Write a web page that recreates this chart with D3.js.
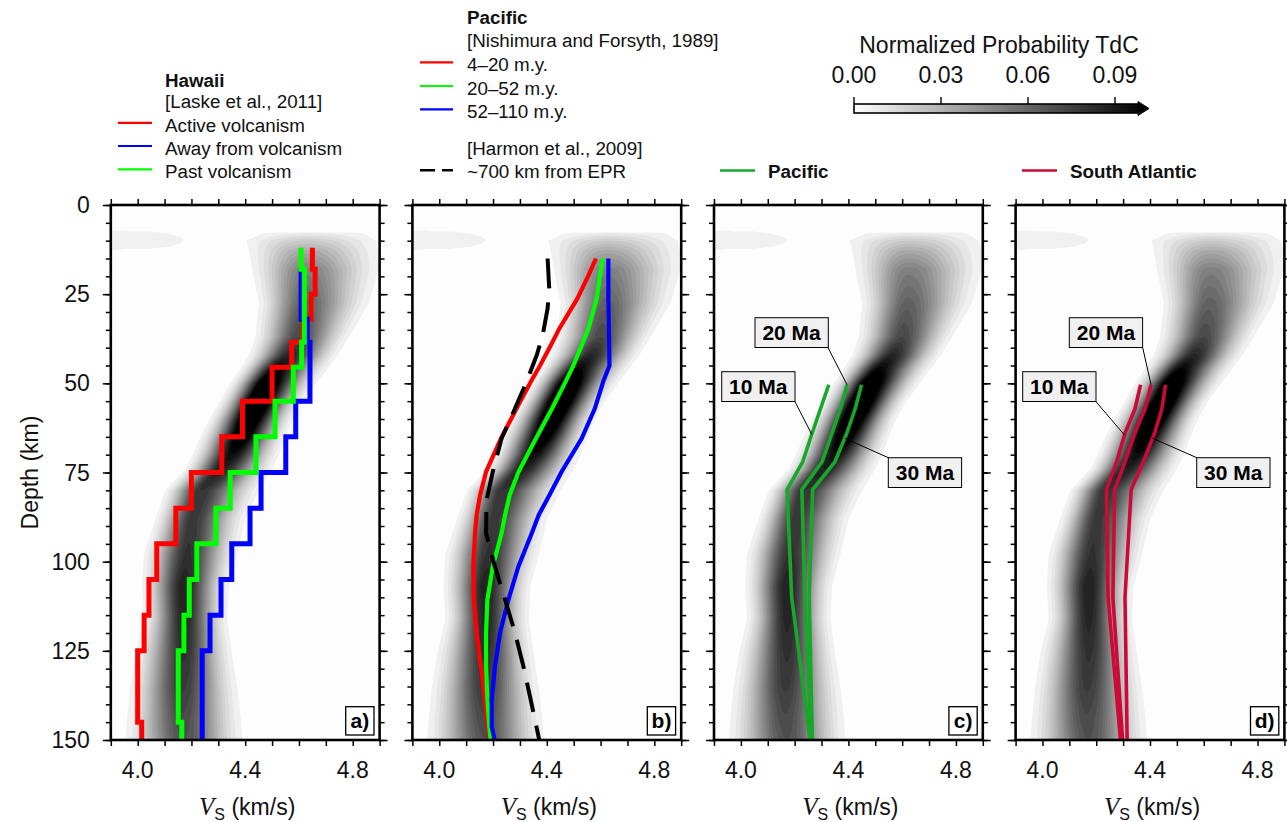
<!DOCTYPE html>
<html>
<head>
<meta charset="utf-8">
<script src="https://cdn.jsdelivr.net/npm/d3@7"></script>
<style>
  body { margin: 0; background: #ffffff; }
  svg { display: block; font-family: "Liberation Sans", Arial, Helvetica, sans-serif; }
</style>
</head>
<body>
<svg id="chart" width="1287" height="822"></svg>
<script>
// ---------------- Data ----------------

// Axis ticks
const vsTicks = [3.9, 4.0, 4.1, 4.2, 4.3, 4.4, 4.5, 4.6, 4.7, 4.8, 4.9];
const vsLabels = [4.0, 4.4, 4.8];
const depthMinorTicks = d3.range(0, 151, 5);
const depthLabels = [0, 25, 50, 75, 100, 125, 150];
const probTicks = [0.00, 0.03, 0.06, 0.09];

// Probability density ridge (TdC): per depth, modal Vs, peak normalized
// probability and the half-widths (left/right of mode) of the outermost contour
const densDepth = [7.1, 8, 10, 13, 18, 27.5, 37, 42, 46, 50, 55.5, 60, 65, 70, 74, 80, 88, 98, 107, 116, 126, 135, 144, 150];
const densMode  = [4.64, 4.64, 4.63, 4.625, 4.624, 4.62, 4.60, 4.565, 4.515, 4.48, 4.444, 4.415, 4.385, 4.35, 4.31, 4.235, 4.203, 4.184, 4.172, 4.172, 4.172, 4.166, 4.166, 4.172];
const densPeak  = [0.0, 0.010, 0.022, 0.036, 0.052, 0.064, 0.074, 0.087, 0.100, 0.118, 0.125, 0.120, 0.110, 0.097, 0.090, 0.082, 0.080, 0.083, 0.090, 0.088, 0.083, 0.079, 0.073, 0.070];
const densLeft  = [0.07, 0.175, 0.225, 0.21, 0.198, 0.169, 0.162, 0.15, 0.134, 0.135, 0.142, 0.148, 0.151, 0.145, 0.132, 0.131, 0.137, 0.161, 0.156, 0.149, 0.18, 0.193, 0.205, 0.217];
const densRight = [0.09, 0.20, 0.256, 0.27, 0.273, 0.24, 0.186, 0.18, 0.19, 0.185, 0.168, 0.163, 0.165, 0.175, 0.19, 0.216, 0.198, 0.186, 0.167, 0.161, 0.179, 0.204, 0.217, 0.217];

// Faint shallow low-velocity streak at the top left of the density field
const streakDepth = [7.1, 7.4, 8.0, 9.0, 9.8, 10.8, 11.8, 12.3, 12.6];
const streakReach = [3.9, 4.06, 4.13, 4.175, 4.19, 4.175, 4.13, 4.06, 3.9];
const streakLevel = 0.0072;

// a) Hawaii, Laske et al. (2011): layered profiles
const hawaiiLayerTop  = [12, 18, 25, 32, 38.5, 45.5, 55, 65, 75, 85, 95, 105, 115, 125, 145];
const hawaiiLayerBase = [18, 25, 32, 38.5, 45.5, 55, 65, 75, 85, 95, 105, 115, 125, 145, 150];
const hawaiiActive = [4.65, 4.66, 4.645, 4.615, 4.573, 4.50, 4.39, 4.313, 4.20, 4.142, 4.071, 4.042, 4.024, 4.00, 4.015];
const hawaiiAway   = [null, 4.608, 4.608, 4.631, 4.641, 4.641, 4.588, 4.551, 4.459, 4.418, 4.35, 4.31, 4.269, 4.24, 4.24];
const hawaiiPast   = [4.608, 4.62, 4.62, 4.62, 4.61, 4.579, 4.511, 4.44, 4.344, 4.291, 4.22, 4.192, 4.172, 4.151, 4.164];

// b) Pacific, Nishimura and Forsyth (1989)
const nfDepth   = [15, 19.6, 26.2, 34.6, 39.3, 45, 49.5, 57, 65.4, 74.8, 81.3, 86.9, 92, 101.4, 110.7, 120, 129.4, 138.7, 146.3, 150];
const nf4to20   = [4.583, 4.556, 4.514, 4.447, 4.415, 4.375, 4.341, 4.288, 4.23, 4.174, 4.152, 4.139, 4.133, 4.127, 4.129, 4.139, 4.155, 4.17, 4.18, 4.189];
const nf20to52  = [4.608, 4.598, 4.586, 4.555, 4.53, 4.499, 4.47, 4.42, 4.36, 4.295, 4.262, 4.245, 4.232, 4.199, 4.179, 4.174, 4.174, 4.179, 4.186, 4.191];
const nf52to110 = [4.629, 4.629, 4.629, 4.631, 4.632, 4.633, 4.61, 4.579, 4.53, 4.455, 4.41, 4.37, 4.344, 4.294, 4.257, 4.226, 4.207, 4.195, 4.195, 4.206];

// b) Harmon et al. (2009), ~700 km from EPR
const harmonDepth = [15, 23.4, 29, 36.4, 42, 49.5, 57, 65.4, 74.8, 82.7, 92, 101.4, 110.7, 120, 129.4, 138.7, 150];
const harmonVs    = [4.403, 4.409, 4.403, 4.385, 4.363, 4.325, 4.282, 4.232, 4.199, 4.176, 4.174, 4.207, 4.245, 4.282, 4.313, 4.34, 4.372];

// c) Pacific and d) South Atlantic cooling-plate models at 10, 20, 30 Ma
const modelAges  = ["10 Ma", "20 Ma", "30 Ma"];
const modelDepth = [50.4, 57.2, 64, 72, 79.8, 110, 150];
const pacific10  = [4.327, 4.296, 4.265, 4.230, 4.172, 4.189, 4.258];
const pacific20  = [4.395, 4.370, 4.339, 4.302, 4.227, 4.238, 4.262];
const pacific30  = [4.449, 4.425, 4.394, 4.350, 4.267, 4.254, 4.266];
const atlantic10 = [4.365, 4.344, 4.307, 4.276, 4.238, 4.244, 4.290];
const atlantic20 = [4.404, 4.381, 4.343, 4.307, 4.268, 4.262, 4.298];
const atlantic30 = [4.458, 4.444, 4.417, 4.375, 4.330, 4.307, 4.315];

// ---------------- Layout ----------------
const svg = d3.select("#chart");
const panelX = [110.8, 412.4, 714.0, 1015.6];
const panelW = 268.8, plotTop = 205, plotH = 535;

const x = d3.scaleLinear().domain([3.9, 4.9]).range([0, panelW]);
const y = d3.scaleLinear().domain([0, 150]).range([0, plotH]);
const gray = d3.scaleLinear().domain([0, 0.1]).range(["#ffffff", "#000000"]).clamp(true);

// ---------------- Density field ----------------
const v0 = 3.9, dv = 0.0025, dz = 0.25;
const nx = Math.round(1 / dv) + 1, ny = Math.round(150 / dz) + 1;
const grid = new Float64Array(nx * ny);
const modeAt = d3.scaleLinear(densDepth, densMode).clamp(true);
const peakAt = d3.scaleLinear(densDepth, densPeak).clamp(true);
const leftAt = d3.scaleLinear(densDepth, densLeft).clamp(true);
const rightAt = d3.scaleLinear(densDepth, densRight).clamp(true);
const reachAt = d3.scaleLinear(streakDepth, streakReach).clamp(true);
const floorLevel = 0.006;

for (let j = 0; j < ny; j++) {
  const z = j * dz;
  const p = z < densDepth[0] ? 0 : peakAt(z);
  const m = modeAt(z);
  const k = p > floorLevel * 1.001 ? Math.sqrt(Math.log(p / floorLevel)) : 1;
  const sL = leftAt(z) / k, sR = rightAt(z) / k;
  const inStreak = z >= streakDepth[0] && z <= streakDepth[streakDepth.length - 1];
  const reach = reachAt(z);
  for (let i = 0; i < nx; i++) {
    const v = v0 + i * dv;
    const d = v - m;
    const s = d < 0 ? sL : sR;
    let val = p * Math.exp(-(d / s) * (d / s));
    if (inStreak) {
      val += streakLevel * Math.max(0, Math.min(1, (reach - v) / 0.02));
    }
    grid[j * nx + i] = val;
  }
}
const levels = d3.range(floorLevel, 0.14, 0.004);
const contours = d3.contours().size([nx, ny]).thresholds(levels)(grid);
const gridProj = d3.geoTransform({
  point(px, py) { this.stream.point(x(v0 + (px - 0.5) * dv), y((py - 0.5) * dz)); }
});
const contourPath = d3.geoPath(gridProj);

// ---------------- Panels ----------------
function stepPoints(vals) {
  const pts = [];
  vals.forEach((v, i) => {
    if (v == null) return;
    pts.push([v, hawaiiLayerTop[i]], [v, hawaiiLayerBase[i]]);
  });
  return pts;
}
const zip = (depths, vals) => depths.map((d, i) => [vals[i], d]);
const lineGen = d3.line().x(d => x(d[0])).y(d => y(d[1]));

const pacGreen = "#17a82a";
const atlCrimson = "#cc0a36";

const panelDefs = [
  { tag: "a)", lines: [
      { pts: stepPoints(hawaiiActive), color: "#ff0000", w: 5 },
      { pts: stepPoints(hawaiiAway), color: "#0000ff", w: 5 },
      { pts: stepPoints(hawaiiPast), color: "#00ff00", w: 5 } ] },
  { tag: "b)", lines: [
      { pts: zip(nfDepth, nf4to20), color: "#ff0000", w: 4.2 },
      { pts: zip(nfDepth, nf20to52), color: "#00ff00", w: 4.2 },
      { pts: zip(nfDepth, nf52to110), color: "#0000ff", w: 4.2 },
      { pts: zip(harmonDepth, harmonVs), color: "#000000", w: 4, dash: "30,14" } ] },
  { tag: "c)", model: [pacific10, pacific20, pacific30], color: pacGreen,
    boxes: [ { x: 7.7, y: 166.7, lead: [81, 196.7], at: 64.3 },
             { x: 41, y: 112.7, lead: [114, 142.7], at: 50.4 },
             { x: 174.3, y: 252.7, lead: [174.3, 252.7], at: 65.4 } ] },
  { tag: "d)", model: [atlantic10, atlantic20, atlantic30], color: atlCrimson,
    boxes: [ { x: 7.1, y: 166.7, lead: [80.4, 196.7], at: 64.5 },
             { x: 53.7, y: 112.7, lead: [127.1, 142.7], at: 50.4 },
             { x: 181.1, y: 252.7, lead: [181.1, 252.7], at: 65.4 } ] }
];

const defs = svg.append("defs");

panelDefs.forEach((pd, k) => {
  const g = svg.append("g").attr("transform", `translate(${panelX[k]},${plotTop})`);
  const clipId = "clip" + k;
  defs.append("clipPath").attr("id", clipId)
    .append("rect").attr("width", panelW).attr("height", plotH);
  const plot = g.append("g").attr("clip-path", `url(#${clipId})`);

  plot.append("rect").attr("width", panelW).attr("height", plotH).attr("fill", "#fdfdfd");
  plot.append("g").selectAll("path").data(contours).join("path")
    .attr("d", contourPath)
    .attr("fill", d => gray(d.value))
    .attr("stroke", "none");

  if (pd.lines) {
    pd.lines.forEach(l => {
      plot.append("path").datum(l.pts)
        .attr("d", lineGen)
        .attr("fill", "none")
        .attr("stroke", l.color)
        .attr("stroke-width", l.w)
        .attr("stroke-linejoin", "miter")
        .attr("stroke-dasharray", l.dash || null);
    });
  }
  if (pd.model) {
    pd.model.forEach(vals => {
      plot.append("path").datum(zip(modelDepth, vals))
        .attr("d", lineGen)
        .attr("fill", "none")
        .attr("stroke", pd.color)
        .attr("stroke-width", 3.6)
        .attr("stroke-linejoin", "round");
    });
    // age labels with leader lines to their profiles
    pd.boxes.forEach((b, i) => {
      const vAt = d3.scaleLinear(modelDepth, pd.model[i]).clamp(true);
      plot.append("line")
        .attr("x1", b.lead[0]).attr("y1", b.lead[1])
        .attr("x2", x(vAt(b.at))).attr("y2", y(b.at))
        .attr("stroke", "#000").attr("stroke-width", 1);
      plot.append("rect")
        .attr("x", b.x).attr("y", b.y).attr("width", 73.3).attr("height", 29.8)
        .attr("fill", "#f0f0f0").attr("stroke", "#000").attr("stroke-width", 1);
      plot.append("text")
        .attr("x", b.x + 36.6).attr("y", b.y + 22.5)
        .attr("text-anchor", "middle")
        .attr("font-size", 21).attr("font-weight", "bold").attr("fill", "#000")
        .text(modelAges[i]);
    });
  }

  // ticks on all four sides
  const tickStyle = sel => {
    sel.select(".domain").remove();
    sel.selectAll(".tick line").attr("stroke", "#000").attr("stroke-width", 1.5);
    sel.selectAll(".tick text").remove();
  };
  g.append("g").attr("transform", `translate(0,${plotH})`)
    .call(d3.axisBottom(x).tickValues(vsTicks).tickSize(6).tickFormat("")).call(tickStyle);
  g.append("g")
    .call(d3.axisTop(x).tickValues(vsTicks).tickSize(6).tickFormat("")).call(tickStyle);
  g.append("g").call(d3.axisLeft(y).tickValues(depthMinorTicks).tickSize(5).tickFormat("")).call(tickStyle);
  g.append("g").call(d3.axisLeft(y).tickValues(depthLabels).tickSize(8).tickFormat("")).call(tickStyle);
  g.append("g").attr("transform", `translate(${panelW},0)`)
    .call(d3.axisRight(y).tickValues(depthMinorTicks).tickSize(5).tickFormat("")).call(tickStyle);
  g.append("g").attr("transform", `translate(${panelW},0)`)
    .call(d3.axisRight(y).tickValues(depthLabels).tickSize(8).tickFormat("")).call(tickStyle);

  // frame
  g.append("rect").attr("width", panelW).attr("height", plotH)
    .attr("fill", "none").attr("stroke", "#000").attr("stroke-width", 2.6);

  // x tick labels
  g.selectAll(".xl").data(vsLabels).join("text")
    .attr("x", d => x(d)).attr("y", plotH + 38)
    .attr("text-anchor", "middle").attr("font-size", 23).attr("fill", "#111")
    .text(d => d.toFixed(1));

  // x axis title
  const t = g.append("text")
    .attr("x", panelW / 2 + 2).attr("y", plotH + 75)
    .attr("text-anchor", "middle").attr("font-size", 23).attr("fill", "#111");
  t.append("tspan").attr("font-family", "'Liberation Serif', 'DejaVu Serif', serif")
    .attr("font-style", "italic").attr("font-size", 25).text("V");
  t.append("tspan").attr("font-size", 16).attr("dy", 5).text("S");
  t.append("tspan").attr("dy", -5).text(" (km/s)");

  // panel tag
  const tg = g.append("g").attr("transform", `translate(${panelW - 33.9},${plotH - 33.3})`);
  tg.append("rect").attr("width", 28.3).attr("height", 28.3)
    .attr("fill", "#fff").attr("stroke", "#000").attr("stroke-width", 1.3);
  tg.append("text").attr("x", 14.2).attr("y", 21.5).attr("text-anchor", "middle")
    .attr("font-size", 21).attr("font-weight", "bold").text(pd.tag);

  // depth labels on first panel only
  if (k === 0) {
    g.selectAll(".yl").data(depthLabels).join("text")
      .attr("x", -21).attr("y", d => y(d) + 8)
      .attr("text-anchor", "end").attr("font-size", 23).attr("fill", "#111")
      .text(d => d);
  }
});

// y axis title
svg.append("text")
  .attr("transform", `translate(38,${plotTop + plotH / 2}) rotate(-90)`)
  .attr("text-anchor", "middle").attr("font-size", 23).attr("fill", "#111")
  .text("Depth (km)");

// ---------------- Legends ----------------
const legFont = 18.8;
function legendText(xp, yp, str, bold) {
  svg.append("text").attr("x", xp).attr("y", yp)
    .attr("font-size", legFont).attr("font-weight", bold ? "bold" : "normal")
    .attr("fill", "#111").text(str);
}
function legendLine(x1, x2, yp, color, w, dash) {
  svg.append("line").attr("x1", x1).attr("x2", x2).attr("y1", yp).attr("y2", yp)
    .attr("stroke", color).attr("stroke-width", w).attr("stroke-dasharray", dash || null);
}

// Hawaii
legendText(165, 86.7, "Hawaii", true);
legendText(165, 107.5, "[Laske et al., 2011]");
legendLine(118, 152, 122.8, "#ff0000", 2.2);
legendText(165, 131.7, "Active volcanism");
legendLine(118, 152, 146, "#0000ff", 2.2);
legendText(165, 155, "Away from volcanism");
legendLine(118, 152, 169.3, "#00ff00", 2.2);
legendText(165, 178, "Past volcanism");

// Pacific (Nishimura and Forsyth / Harmon)
legendText(467, 23.5, "Pacific", true);
legendText(467, 47, "[Nishimura and Forsyth, 1989]");
legendLine(420, 453, 62.3, "#ff0000", 2.2);
legendText(467, 71, "4\u201320 m.y.");
legendLine(420, 453, 86, "#00ff00", 2.2);
legendText(467, 94.5, "20\u201352 m.y.");
legendLine(420, 453, 109.3, "#0000ff", 2.2);
legendText(467, 118, "52\u2013110 m.y.");
legendText(467, 155, "[Harmon et al., 2009]");
legendLine(420, 453, 170.2, "#000000", 2.6, "15,7");
legendText(467, 178, "~700 km from EPR");

// Model legends
legendLine(720, 755, 170.5, pacGreen, 2.4);
legendText(768, 177.5, "Pacific", true);
legendLine(1022, 1057, 170.5, atlCrimson, 2.4);
legendText(1070, 177.5, "South Atlantic", true);

// ---------------- Colour bar ----------------
const cb = d3.scaleLinear().domain([0, 0.09]).range([854, 1115]);
const grad = defs.append("linearGradient").attr("id", "cbGrad")
  .attr("gradientUnits", "userSpaceOnUse")
  .attr("x1", cb(0)).attr("x2", cb(0.1)).attr("y1", 0).attr("y2", 0);
d3.range(0, 1.0001, 0.1).forEach(f => {
  grad.append("stop").attr("offset", f).attr("stop-color", gray(f * 0.1));
});
const barEnd = 1138, barY = 104, barH = 9;
svg.append("rect").attr("x", cb(0)).attr("y", barY).attr("width", barEnd - cb(0)).attr("height", barH)
  .attr("fill", "url(#cbGrad)").attr("stroke", "#000").attr("stroke-width", 1.6);
svg.append("path")
  .attr("d", `M${barEnd},${barY - 2.5}L${barEnd + 11},${barY + barH / 2}L${barEnd},${barY + barH + 2.5}Z`)
  .attr("fill", "#000").attr("stroke", "#000").attr("stroke-width", 1);
svg.selectAll(".cbt").data(probTicks).join("line")
  .attr("x1", d => cb(d)).attr("x2", d => cb(d))
  .attr("y1", barY - 7).attr("y2", barY)
  .attr("stroke", "#000").attr("stroke-width", 1.4);
svg.selectAll(".cbl").data(probTicks).join("text")
  .attr("x", d => cb(d)).attr("y", 83)
  .attr("text-anchor", "middle").attr("font-size", 23).attr("fill", "#111")
  .text(d => d.toFixed(2));
svg.append("text").attr("x", 999).attr("y", 53)
  .attr("text-anchor", "middle").attr("font-size", 23).attr("fill", "#111")
  .text("Normalized Probability TdC");
</script>
</body>
</html>
